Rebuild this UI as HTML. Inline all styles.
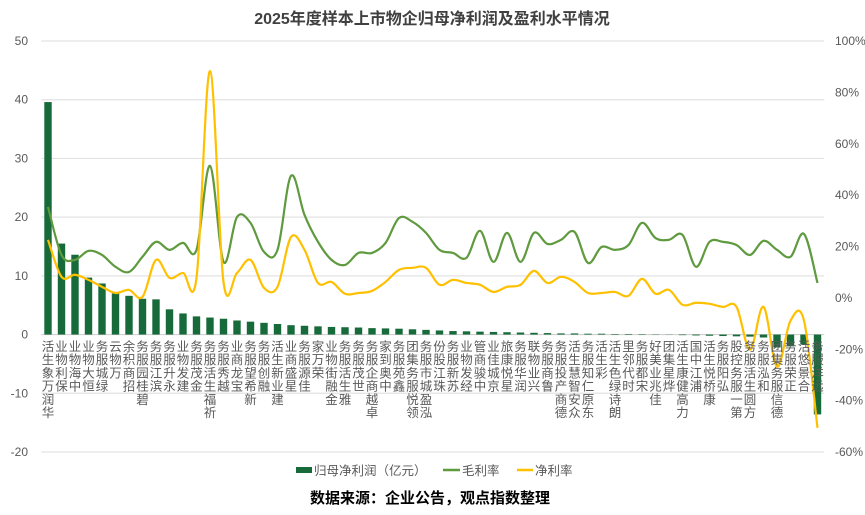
<!DOCTYPE html>
<html><head><meta charset="utf-8"><style>
body{margin:0;background:#fff;}
svg{display:block;font-family:"Liberation Sans","Noto Sans CJK SC",sans-serif;}
</style></head><body>
<svg id="chart" width="865" height="515">
<text x="432" y="24" text-anchor="middle" font-size="16" font-weight="bold" fill="#404040">2025年度样本上市物企归母净利润及盈利水平情况</text>
<g id="grid"></g><g id="bars"></g><g id="lines"></g><g id="xlabels"></g><g id="yl"></g><g id="yr"></g>
<g>
<g><rect x="296" y="467" width="16" height="6" fill="#176b3a"/><text x="314" y="475" font-size="12.5" fill="#595959">归母净利润（亿元）</text></g>
<g><line x1="443" y1="470" x2="460" y2="470" stroke="#5f9a3f" stroke-width="2.5"/><text x="462" y="475" font-size="12.5" fill="#595959">毛利率</text></g>
<g><line x1="517" y1="470" x2="533" y2="470" stroke="#ffc000" stroke-width="2.5"/><text x="535" y="475" font-size="12.5" fill="#595959">净利率</text></g>
</g>
<text x="430" y="503" text-anchor="middle" font-size="15" font-weight="bold" fill="#000">数据来源：企业公告，观点指数整理</text>
</svg>
<script>
const categories=["华润万象生活","保利物业","中海物业","恒大物业","绿城服务","万物云","招商积余","碧桂园服务","滨江服务","永升服务","建发物业","金茂服务","祈福生活服务","越秀服务","宝龙商业","新希望服务","融创服务","建业新生活","星盛商业","佳源服务","荣万家","金融街物业","雅生活服务","世茂服务","卓越商企服务","中奥到家","鑫苑服务","领悦服务集团","泓盈城市服务","珠江股份","苏新服务","经发物业","中骏商管","京城佳业","星悦康旅","润华服务","兴业物联","鲁商服务","德商产投服务","众安智慧生活","东原仁知服务","彩生活","朗诗绿色生活","时代邻里","宋都服务","佳兆业美好","烨星集团","力高健康生活","浦江中国","康桥悦生活","弘阳服务","第一服务控股","方圆生活服务","和泓服务","德信服务集团","正荣服务","合景悠活","远洋服务"];
const profit=[39.6,15.5,13.6,9.7,8.7,7.0,6.6,6.1,6.0,4.3,3.6,3.1,2.9,2.7,2.4,2.2,2.0,1.8,1.6,1.5,1.4,1.3,1.25,1.2,1.1,1.05,1.0,0.9,0.8,0.7,0.6,0.55,0.5,0.45,0.4,0.35,0.3,0.25,0.2,0.2,0.15,0.15,0.1,0.1,0.08,0.05,0.03,-0.1,-0.15,-0.2,-0.25,-0.3,-0.35,-0.5,-2.2,-2.0,-1.7,-13.6];
const grossMargin=[35.4,16.7,14.8,18.3,16.7,12.1,10.1,16,21.8,18.7,21.4,18.7,51.4,14,31.5,29.2,17.9,18.7,47.5,32.3,21.8,14.8,12.8,17.5,17.5,21.4,31.1,29.6,25.3,18.7,17.5,15.6,26.1,14,25.3,14,25.3,21,22.6,25.7,13.6,19.8,18.7,20.6,29.2,23.3,22.6,24.5,12.1,21.8,21.8,20.6,16.7,22.2,18.7,16,24.9,5.8];
const netMargin=[22.6,8.2,9,7,4.3,1.9,3.1,0.4,14.8,7.8,9.7,7.8,88.3,6.2,9.7,14.8,3.9,4.3,23.7,18.7,5.8,6.2,1.6,1.9,2.7,6.2,10.9,11.7,11.7,5.1,7,5.8,5.1,2.3,4.3,5.1,10.5,5.8,8.2,6.2,1.9,1.9,2.3,0.8,7.4,1.6,3.1,-2.7,-1.9,-2.3,-3.5,-3.5,-20.2,-3.5,-26.8,-8.9,-8.9,-50.6];
const leftTicks=[50,40,30,20,10,0,-10,-20];
const rightTicks=[100,80,60,40,20,0,-20,-40,-60];
const NS="http://www.w3.org/2000/svg";
const X0=41.25,STEP=13.5,TOP=41,BOT=452;
const xc=i=>X0+STEP*(i+0.5);
const yL=v=>TOP+(50-v)/70*(BOT-TOP);
const yR=v=>TOP+(100-v)/160*(BOT-TOP);
function mk(t,a,p){const e=document.createElementNS(NS,t);for(const k in a)e.setAttribute(k,a[k]);p.appendChild(e);return e;}
const grid=document.getElementById('grid'),yl=document.getElementById('yl'),yr=document.getElementById('yr');
leftTicks.forEach(v=>{
 const g=mk('line',{x1:X0,x2:X0+STEP*categories.length,y1:yL(v),y2:yL(v),stroke:v===0?'#d0d0d0':'#e3e3e3','stroke-width':1.2},grid);
 
 
 const t=mk('text',{x:28,y:yL(v)+4,'text-anchor':'end','font-size':12,fill:'#595959'},yl);t.textContent=v;
 
 
});
rightTicks.forEach(v=>{
 const t=mk('text',{x:835,y:yR(v)+4,'font-size':12,fill:'#595959'},yr);t.textContent=v+'%';
 
 
});
const bars=document.getElementById('bars'),xlab=document.getElementById('xlabels');
profit.forEach((v,i)=>{
 const y0=yL(0),y1=yL(v);
 const r=mk('rect',{x:xc(i)-3.7,y:Math.min(y0,y1),width:7.4,height:Math.abs(y1-y0),fill:'#176b3a'},bars);
 
 
});
categories.forEach((c,i)=>{
 const g=mk('g',{},xlab);
 
 
 const ttl=mk('title',{},g);ttl.textContent=c;
 const ch=[...c];const n=ch.length;
 ch.forEach((k,j)=>{const t=mk('text',{x:xc(i),y:351+(n-1-j)*13.2,'text-anchor':'middle','font-size':12.5,fill:'#595959'},g);t.textContent=k;});
});
function smooth(vals,fy){
 const p=vals.map((v,i)=>[xc(i),fy(v)]);
 let d='M'+p[0][0]+','+p[0][1];
 for(let i=0;i<p.length-1;i++){
  const a=p[i-1]||p[i],b=p[i],c=p[i+1],e=p[i+2]||c;
  const k=0.17;
  d+=` C${b[0]+(c[0]-a[0])*k},${b[1]+(c[1]-a[1])*k} ${c[0]-(e[0]-b[0])*k},${c[1]-(e[1]-b[1])*k} ${c[0]},${c[1]}`;
 }
 return d;
}
const lines=document.getElementById('lines');
const lg=mk('path',{d:smooth(grossMargin,yR),fill:'none',stroke:'#5f9a3f','stroke-width':2.2},lines);


const ln=mk('path',{d:smooth(netMargin,yR),fill:'none',stroke:'#ffc000','stroke-width':2.2},lines);


</script>
</body></html>
